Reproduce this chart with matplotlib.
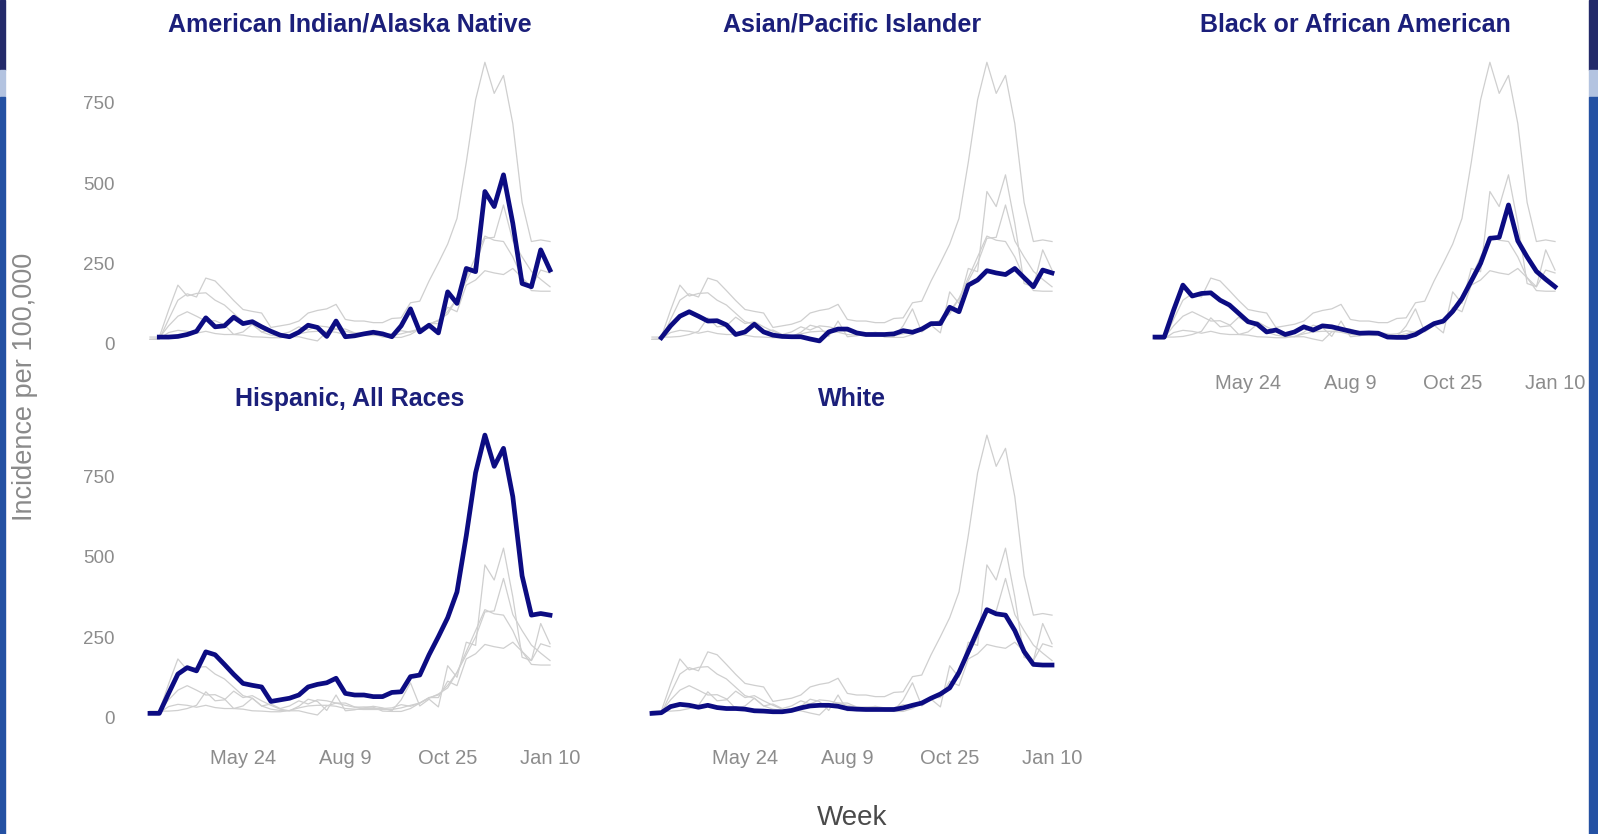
import numpy as np
import matplotlib
matplotlib.use("Agg")
import matplotlib.pyplot as plt
import matplotlib.dates as mdates
from matplotlib.patches import Rectangle
from matplotlib.transforms import offset_copy

# ---------------- data ----------------
groups = ["American Indian/Alaska Native", "Asian/Pacific Islander",
          "Black or African American", "Hispanic, All Races", "White"]

# weekly points, week of 2020-03-15 through week of 2021-01-10
weeks = np.datetime64("2020-03-15") + np.arange(44) * np.timedelta64(7, "D")

nan = np.nan
aian = [nan, 20, 20, 22, 28, 38, 80, 52, 55, 82, 62, 68, 52, 38, 26, 21, 35, 57, 50, 22,
        70, 21, 24, 30, 35, 30, 21, 55, 108, 36, 57, 33, 161, 125, 234, 224, 474, 427, 526,
        375, 187, 177, 292, 229]
api = [nan, 18, 55, 85, 99, 85, 70, 71, 58, 28, 36, 60, 36, 26, 22, 21, 21, 14, 8, 36,
       45, 45, 33, 28, 28, 28, 30, 40, 35, 45, 62, 62, 113, 99, 182, 198, 227, 220, 215,
       234, 205, 177, 229, 220]
black = [20, 20, 104, 182, 148, 156, 158, 135, 120, 94, 68, 60, 36, 42, 28, 36, 52, 42, 55, 52,
         45, 38, 32, 33, 32, 20, 19, 19, 28, 45, 62, 70, 100, 140, 195, 250, 328, 331, 432,
         320, 270, 225, 200, 177]
hisp = [13, 13, 75, 135, 155, 145, 204, 195, 165, 134, 106, 100, 95, 50, 55, 60, 70, 95, 103, 108,
        122, 75, 70, 70, 65, 65, 78, 80, 127, 132, 195, 251, 310, 390, 565, 760, 877, 780, 836,
        686, 440, 318, 323, 318]
white = [13, 15, 34, 41, 38, 32, 38, 31, 28, 28, 26, 21, 20, 18, 18, 22, 30, 36, 38, 38,
         35, 28, 26, 25, 25, 25, 25, 30, 38, 45, 60, 73, 92, 140, 205, 270, 335, 322, 318,
         270, 205, 165, 163, 163]

series = [aian, api, black, hisp, white]

y_ticks = [0, 250, 500, 750]
x_tick_dates = ["2020-05-24", "2020-08-09", "2020-10-25", "2021-01-10"]
x_tick_labels = ["May 24", "Aug 9", "Oct 25", "Jan 10"]

# ---------------- style ----------------
W, H = 1598, 834
fig = plt.figure(figsize=(W / 100, H / 100), dpi=100)
plt.rcParams["font.family"] = ["Liberation Sans", "DejaVu Sans"]

HL = "#0c0c82"
GREY = "#cfcfcf"
TITLE_C = "#1b1f7a"
TICK_C = "#8c8c8c"

def rect(left, top, w, h):
    return [left / W, 1 - (top + h) / H, w / W, h / H]

col_left = [136.7, 638.7, 1141.7]
col_w = 426.6
rows = [(54.9, 296.6), (427.7, 297.9)]
positions = [(0, 0), (0, 1), (0, 2), (1, 0), (1, 1)]

x0 = mdates.date2num(np.datetime64("2020-03-15")) - 10
x1 = mdates.date2num(np.datetime64("2021-01-10")) + 10
xt = [mdates.date2num(np.datetime64(d)) for d in x_tick_dates]
xw = mdates.date2num(weeks)

for k, (r, c) in enumerate(positions):
    top, h = rows[r]
    ax = fig.add_axes(rect(col_left[c], top, col_w, h))
    for j, s in enumerate(series):
        if j != k:
            ax.plot(xw, s, color=GREY, lw=0.9, zorder=1)
    ax.plot(xw, series[k], color=HL, lw=3.4, zorder=3, solid_joinstyle="round")
    ax.set_xlim(x0, x1)
    ax.set_ylim(-25, 900)
    for sp in ax.spines.values():
        sp.set_visible(False)
    ax.set_facecolor("none")
    ax.set_yticks(y_ticks)
    ax.set_xticks(xt)
    ax.tick_params(length=0, labelcolor=TICK_C)
    ax.tick_params(axis="y", pad=16, labelsize=13.5)
    ax.tick_params(axis="x", pad=17 if r == 1 else 16, labelsize=14.5)
    if c == 0:
        ax.set_yticklabels([str(v) for v in y_ticks])
    else:
        ax.set_yticklabels([])
    if r == 1 or c == 2:
        ax.set_xticklabels(x_tick_labels)
    else:
        ax.set_xticklabels([])
    off = 30 if r == 0 else 29
    tr = offset_copy(ax.transAxes, fig=fig, x=0, y=off * 0.72, units="points")
    ax.text(0.5, 1.0, groups[k], transform=tr, ha="center", va="center",
            fontsize=18, fontweight="bold", color=TITLE_C)

fig.text(25.5 / W, 1 - 387 / H, "Incidence per 100,000", rotation=90,
         ha="center", va="center", fontsize=19.5, color="#8a8a8a")
fig.text(852 / W, 1 - 818 / H, "Week", ha="center", va="center",
         fontsize=20, color="#4a4a4a")

# slide frame decorations
for xl, wd in [(0, 5), (1589, 9)]:
    for y0, hh, col in [(0, 70, "#232a6a"), (70, 27, "#b3c3e0"), (97, 737, "#2451a3")]:
        fig.patches.append(Rectangle((xl / W, 1 - (y0 + hh) / H), wd / W, hh / H,
                                     transform=fig.transFigure, color=col, zorder=10))

fig.savefig("out.png", dpi=100)
